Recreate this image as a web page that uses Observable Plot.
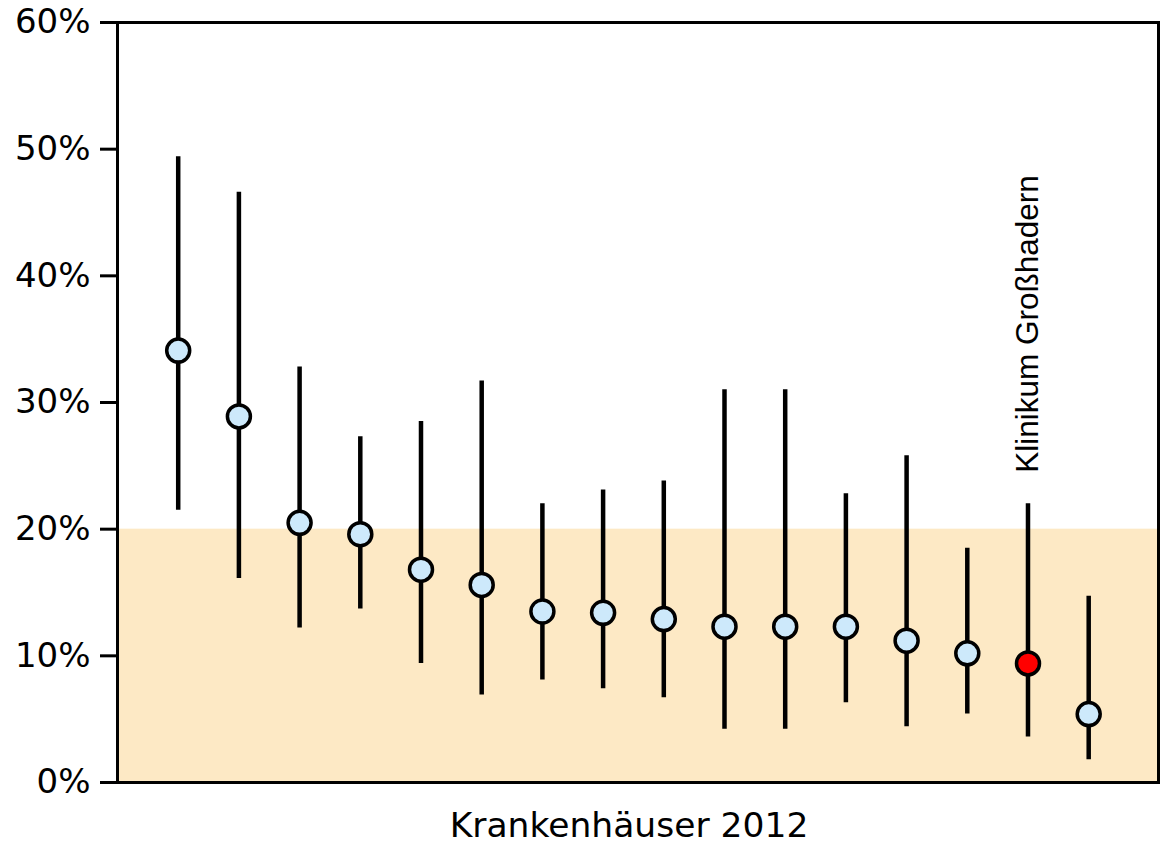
<!DOCTYPE html>
<html>
<head>
<meta charset="utf-8">
<script src="https://cdn.jsdelivr.net/npm/d3@7"></script>
<script src="https://cdn.jsdelivr.net/npm/@observablehq/plot@0.6"></script>
<style>
  html, body { margin: 0; padding: 0; background: #fff; }
  #chart svg { display: block; }
</style>
</head>
<body>
<div id="chart"></div>
<script>
// Data
const hospitalIds = [1, 2, 3, 4, 5, 6, 7, 8, 9, 10, 11, 12, 13, 14, 15, 16];
const hospitalNames = ["", "", "", "", "", "", "", "", "", "", "", "", "", "", "Klinikum Großhadern", ""];
const rateValues = [34.1, 28.9, 20.5, 19.6, 16.8, 15.6, 13.5, 13.4, 12.9, 12.3, 12.3, 12.3, 11.2, 10.2, 9.4, 5.4];
const lowerValues = [21.5, 16.1, 12.2, 13.7, 9.4, 6.9, 8.1, 7.4, 6.7, 4.2, 4.2, 6.3, 4.4, 5.4, 3.6, 1.8];
const upperValues = [49.4, 46.6, 32.8, 27.3, 28.5, 31.7, 22.0, 23.1, 23.8, 31.0, 31.0, 22.8, 25.8, 18.5, 22.0, 14.7];
const highlightName = "Klinikum Großhadern";
const bandRange = [0, 20];
const yTicks = [0, 10, 20, 30, 40, 50, 60];
const xLabel = "Krankenhäuser 2012";

const data = hospitalIds.map((id, i) => ({
  id,
  name: hospitalNames[i],
  rate: rateValues[i],
  lo: lowerValues[i],
  hi: upperValues[i],
  highlight: hospitalNames[i] === highlightName
}));
const band = [{y1: bandRange[0], y2: bandRange[1]}];

const chart = Plot.plot({
  width: 1161,
  height: 847,
  marginLeft: 117,
  marginRight: 3,
  marginTop: 22,
  marginBottom: 65,
  style: {fontFamily: "'DejaVu Sans', Verdana, sans-serif", background: "#fff", color: "#000"},
  x: {domain: [0, 17.15], axis: null},
  y: {domain: [0, 60]},
  color: {type: "identity"},
  marks: [
    Plot.rect(band, {y1: "y1", y2: "y2", fill: "#fde9c5"}),
    Plot.ruleX(data, {x: "id", y1: "lo", y2: "hi", stroke: "#000", strokeWidth: 4.5}),
    Plot.dot(data, {
      x: "id", y: "rate", r: 11.5,
      fill: d => d.highlight ? "#ff0000" : "#cde9fb",
      stroke: "#000", strokeWidth: 3.5
    }),
    Plot.text(data.filter(d => d.name), {
      x: "id", y: "hi", text: "name", rotate: -90, textAnchor: "start",
      dy: -31, fontSize: 31.5, fontFamily: "'Liberation Sans', Arial, sans-serif", fill: "#000"
    }),
    Plot.frame({stroke: "#000", strokeWidth: 3}),
    Plot.axisY({
      ticks: yTicks, tickFormat: d => d + "%", tickSize: 17, tickPadding: 10,
      strokeWidth: 3, fontSize: 34, label: null
    }),
    Plot.text([xLabel], {frameAnchor: "bottom", text: d => d, dy: 54, dx: -9, fontSize: 34.5, fill: "#000"})
  ]
});
document.getElementById("chart").appendChild(chart);
</script>
</body>
</html>
